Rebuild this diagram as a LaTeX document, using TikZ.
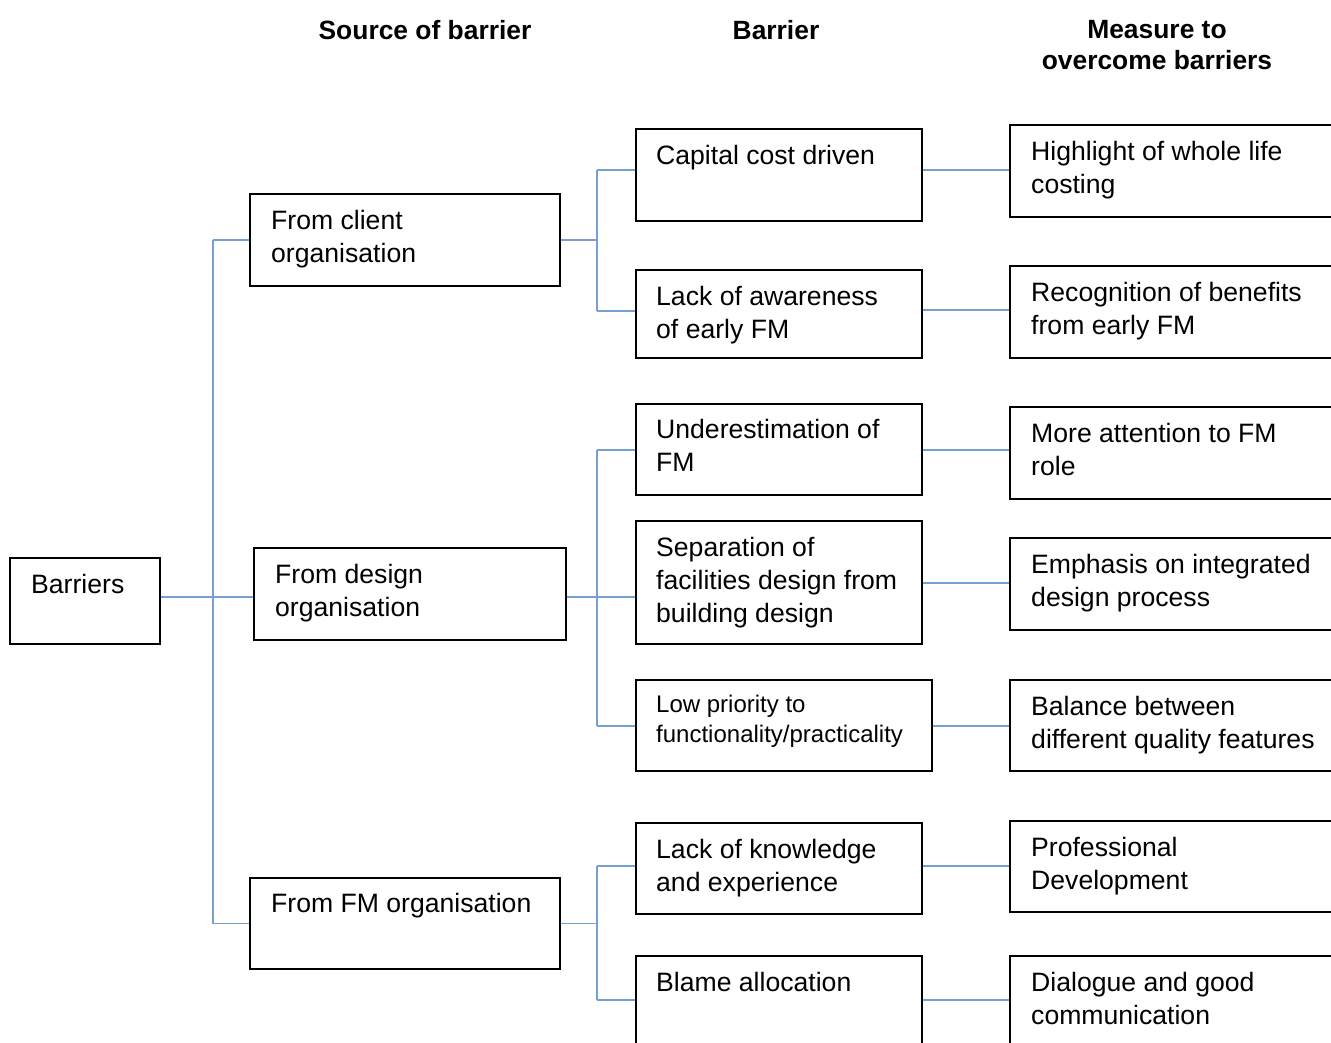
\documentclass[tikz,border=0pt]{standalone}
\usepackage{fontspec}
\setmainfont{Liberation Sans}
\newcommand\bodytext{\fontsize{26.6}{33}\selectfont}
\newcommand\smalltext{\fontsize{24}{30}\selectfont}
\newcommand\headtext{\fontsize{26.4}{31}\selectfont\bfseries}
\definecolor{linkblue}{RGB}{118,160,210}
\tikzset{
  box/.style={draw=black, line width=1.2pt, fill=white, inner sep=0pt},
  txt/.style={anchor=north west, inner sep=0pt, align=left, font=\bodytext},
  smalltxt/.style={anchor=north west, inner sep=0pt, align=left, font=\smalltext},
  head/.style={inner sep=0pt, align=center, font=\headtext},
  link/.style={draw=linkblue, line width=1.2pt}
}
\begin{document}
\begin{tikzpicture}[x=1pt, y=-1pt]
\clip (0,0) rectangle (1331,1043);
\fill[white] (0,0) rectangle (1331,1043);

% column headings
\node[head] (h1) at (425,30) {Source of barrier};
\node[head] (h2) at (776,30) {Barrier};
\node[head] (h3) at (1157,45.5) {Measure to\\overcome barriers};

% connector levels
\coordinate (t1) at (213,597);
\coordinate (t2) at (597,597);

% root and sources
\node[box, minimum width=150, minimum height=86] (bar) at (85,601) {};
\node[box, minimum width=310, minimum height=92] (cli) at (405,240) {};
\node[box, minimum width=312, minimum height=92] (des) at (410,594) {};
\node[box, minimum width=310, minimum height=91] (fmo) at (405,923.5) {};

% barriers
\node[box, minimum width=286, minimum height=92] (cap) at (779,175) {};
\node[box, minimum width=286, minimum height=88] (law) at (779,314) {};
\node[box, minimum width=286, minimum height=91] (und) at (779,449.5) {};
\node[box, minimum width=286, minimum height=123] (sep) at (779,582.5) {};
\node[box, minimum width=296, minimum height=91] (low) at (784,725.5) {};
\node[box, minimum width=286, minimum height=91] (lkn) at (779,868.5) {};
\node[box, minimum width=286, minimum height=92] (bla) at (779,1002) {};

% measures
\node[box, minimum width=330, minimum height=92] (hl)  at (1175,171) {};
\node[box, minimum width=330, minimum height=92] (rec) at (1175,312) {};
\node[box, minimum width=330, minimum height=92] (att) at (1175,453) {};
\node[box, minimum width=330, minimum height=92] (emp) at (1175,584) {};
\node[box, minimum width=330, minimum height=91] (bal) at (1175,725.5) {};
\node[box, minimum width=330, minimum height=91] (pro) at (1175,866.5) {};
\node[box, minimum width=330, minimum height=92] (dia) at (1175,1002) {};

% texts
\node[txt] (barT) at (31,574) {Barriers};
\node[txt] (cliT) at (271,210) {From client\\organisation};
\node[txt] (desT) at (275,564) {From design\\organisation};
\node[txt] (fmoT) at (271,893) {From FM organisation};

\node[txt] (capT) at (656,145) {Capital cost driven};
\node[txt] (lawT) at (656,286) {Lack of awareness\\of early FM};
\node[txt] (undT) at (656,419) {Underestimation of\\FM};
\node[txt] (sepT) at (656,537) {Separation of\\facilities design from\\building design};
\node[smalltxt] (lowT) at (656,695) {Low priority to\\functionality/practicality};
\node[txt] (lknT) at (656,839) {Lack of knowledge\\and experience};
\node[txt] (blaT) at (656,972) {Blame allocation};

\node[txt] (hlT)  at (1031,141) {Highlight of whole life\\costing};
\node[txt] (recT) at (1031,282) {Recognition of benefits\\from early FM};
\node[txt] (attT) at (1031,423) {More attention to FM\\role};
\node[txt] (empT) at (1031,554) {Emphasis on integrated\\design process};
\node[txt] (balT) at (1031,696) {Balance between\\different quality features};
\node[txt] (proT) at (1031,837) {Professional\\Development};
\node[txt] (diaT) at (1031,972) {Dialogue and good\\communication};

% root to sources
\draw[link] (bar.east |- t1) -- (t1) -- (des.west |- t1);
\draw[link] (cli.west -| t1) -- (fmo.west -| t1);
\draw[link] (cli.west -| t1) -- (cli.west);
\draw[link] (fmo.west -| t1) -- (fmo.west);

% client branch
\draw[link] (cli.east) -- (cli.east -| t2);
\draw[link] (t2 |- 0,170) -- (t2 |- 0,311);
\draw[link] (t2 |- 0,170) -- (cap.west |- 0,170);
\draw[link] (t2 |- 0,311) -- (law.west |- 0,311);

% design branch
\draw[link] (des.east |- t2) -- (sep.west |- t2);
\draw[link] (t2 |- 0,450) -- (t2 |- 0,726);
\draw[link] (t2 |- 0,450) -- (und.west |- 0,450);
\draw[link] (t2 |- 0,726) -- (low.west |- 0,726);

% FM branch
\draw[link] (fmo.east) -- (fmo.east -| t2);
\draw[link] (t2 |- 0,866) -- (t2 |- 0,1000);
\draw[link] (t2 |- 0,866) -- (lkn.west |- 0,866);
\draw[link] (t2 |- 0,1000) -- (bla.west |- 0,1000);

% barriers to measures
\draw[link] (cap.east |- 0,170) -- (hl.west |- 0,170);
\draw[link] (law.east |- 0,310) -- (rec.west |- 0,310);
\draw[link] (und.east |- 0,450) -- (att.west |- 0,450);
\draw[link] (sep.east |- 0,583) -- (emp.west |- 0,583);
\draw[link] (low.east |- 0,726) -- (bal.west |- 0,726);
\draw[link] (lkn.east |- 0,866) -- (pro.west |- 0,866);
\draw[link] (bla.east |- 0,1000) -- (dia.west |- 0,1000);
\end{tikzpicture}
\end{document}
